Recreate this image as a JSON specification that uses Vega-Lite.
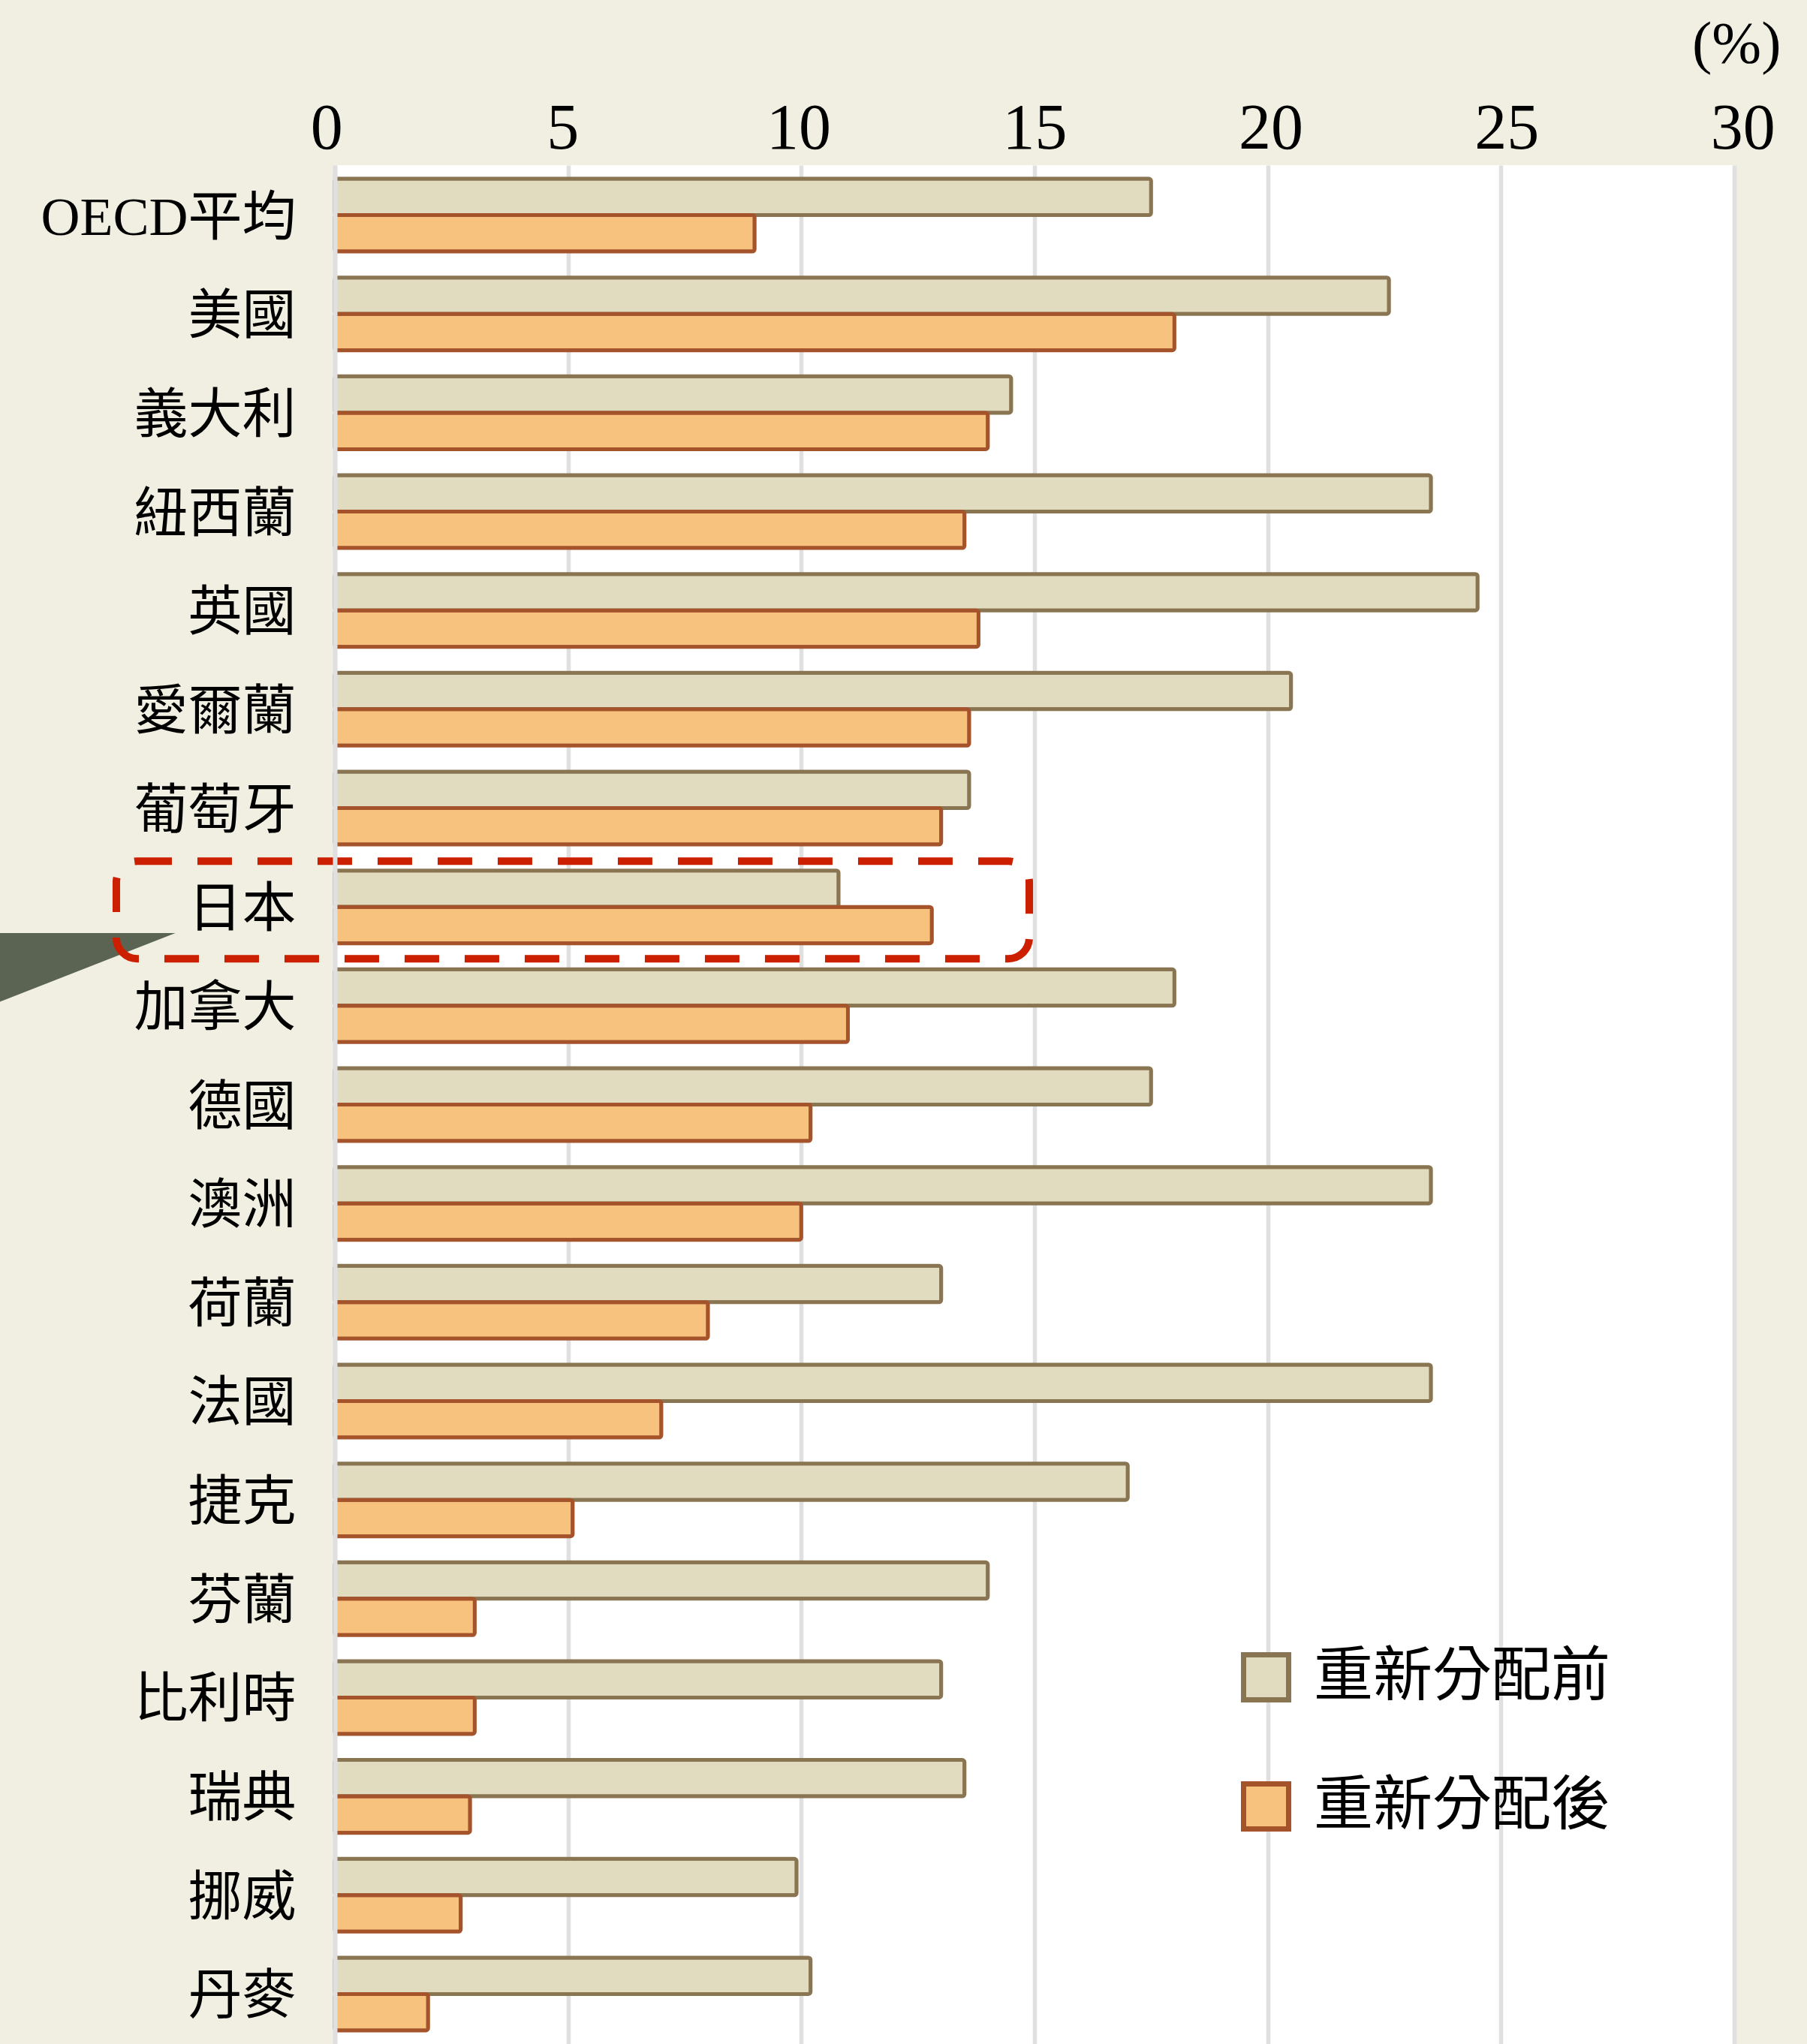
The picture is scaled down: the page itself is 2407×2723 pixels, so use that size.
{
  "$schema": "https://vega.github.io/schema/vega-lite/v6.json",
  "width": 1864,
  "height": 2503,
  "autosize": {"type": "none"},
  "padding": {"left": 446, "top": 220, "right": 97, "bottom": 0},
  "background": "#f1efe1",
  "config": {
    "view": {"stroke": null, "fill": "#ffffff"},
    "font": "Liberation Serif"
  },
  "datasets": {
    "bars": [
      {"country": "OECD平均", "type": "重新分配前", "value": 17.5},
      {"country": "美國", "type": "重新分配前", "value": 22.6},
      {"country": "義大利", "type": "重新分配前", "value": 14.5},
      {"country": "紐西蘭", "type": "重新分配前", "value": 23.5},
      {"country": "英國", "type": "重新分配前", "value": 24.5},
      {"country": "愛爾蘭", "type": "重新分配前", "value": 20.5},
      {"country": "葡萄牙", "type": "重新分配前", "value": 13.6},
      {"country": "日本", "type": "重新分配前", "value": 10.8},
      {"country": "加拿大", "type": "重新分配前", "value": 18.0},
      {"country": "德國", "type": "重新分配前", "value": 17.5},
      {"country": "澳洲", "type": "重新分配前", "value": 23.5},
      {"country": "荷蘭", "type": "重新分配前", "value": 13.0},
      {"country": "法國", "type": "重新分配前", "value": 23.5},
      {"country": "捷克", "type": "重新分配前", "value": 17.0},
      {"country": "芬蘭", "type": "重新分配前", "value": 14.0},
      {"country": "比利時", "type": "重新分配前", "value": 13.0},
      {"country": "瑞典", "type": "重新分配前", "value": 13.5},
      {"country": "挪威", "type": "重新分配前", "value": 9.9},
      {"country": "丹麥", "type": "重新分配前", "value": 10.2},
      {"country": "OECD平均", "type": "重新分配後", "value": 9.0},
      {"country": "美國", "type": "重新分配後", "value": 18.0},
      {"country": "義大利", "type": "重新分配後", "value": 14.0},
      {"country": "紐西蘭", "type": "重新分配後", "value": 13.5},
      {"country": "英國", "type": "重新分配後", "value": 13.8},
      {"country": "愛爾蘭", "type": "重新分配後", "value": 13.6},
      {"country": "葡萄牙", "type": "重新分配後", "value": 13.0},
      {"country": "日本", "type": "重新分配後", "value": 12.8},
      {"country": "加拿大", "type": "重新分配後", "value": 11.0},
      {"country": "德國", "type": "重新分配後", "value": 10.2},
      {"country": "澳洲", "type": "重新分配後", "value": 10.0},
      {"country": "荷蘭", "type": "重新分配後", "value": 8.0},
      {"country": "法國", "type": "重新分配後", "value": 7.0},
      {"country": "捷克", "type": "重新分配後", "value": 5.1},
      {"country": "芬蘭", "type": "重新分配後", "value": 3.0},
      {"country": "比利時", "type": "重新分配後", "value": 3.0},
      {"country": "瑞典", "type": "重新分配後", "value": 2.9},
      {"country": "挪威", "type": "重新分配後", "value": 2.7},
      {"country": "丹麥", "type": "重新分配後", "value": 2.0}
    ]
  },
  "layer": [
    {
      "data": {"name": "bars"},
      "mark": {"type": "bar", "strokeWidth": 5, "cornerRadius": 3},
      "encoding": {
        "y": {
          "field": "country",
          "type": "nominal",
          "scale": {
            "domain": ["OECD平均", "美國", "義大利", "紐西蘭", "英國", "愛爾蘭", "葡萄牙", "日本", "加拿大", "德國", "澳洲", "荷蘭", "法國", "捷克", "芬蘭", "比利時", "瑞典", "挪威", "丹麥"],
            "paddingInner": 0.263,
            "paddingOuter": 0.137
          },
          "axis": {
            "title": null,
            "orient": "left",
            "ticks": false,
            "domain": true,
            "domainColor": "#e0e0e0",
            "domainWidth": 6,
            "zindex": 1,
            "grid": false,
            "labelFont": "Liberation Serif, Noto Sans CJK TC",
            "labelFontSize": 72,
            "labelColor": "#000000",
            "labelPadding": 52,
            "labelOffset": 4,
            "labelLimit": 0
          }
        },
        "yOffset": {
          "field": "type",
          "type": "nominal",
          "sort": ["重新分配前", "重新分配後"],
          "scale": {"paddingInner": 0, "paddingOuter": 0}
        },
        "x": {
          "field": "value",
          "type": "quantitative",
          "scale": {"domain": [0, 30], "nice": false},
          "axis": {
            "orient": "top",
            "values": [0, 5, 10, 15, 20, 25, 30],
            "format": "d",
            "grid": true,
            "gridColor": "#e0e0e0",
            "gridWidth": 5.5,
            "ticks": false,
            "domain": false,
            "labelFont": "Liberation Serif",
            "labelFontSize": 86,
            "labelColor": "#000000",
            "labelPadding": 23,
            "labelOffset": {"expr": "(datum.value - 15) * 0.75"},
            "labelBaseline": "alphabetic",
            "labelFlush": false,
            "labelOverlap": false,
            "labelBound": false,
            "title": "(%)",
            "titleFont": "Liberation Serif",
            "titleFontSize": 79,
            "titleFontWeight": "normal",
            "titleColor": "#000000",
            "titleX": 1926,
            "titleY": -138,
            "titleAlign": "right",
            "titleBaseline": "alphabetic",
            "titleAngle": 0
          }
        },
        "fill": {
          "field": "type",
          "type": "nominal",
          "scale": {"domain": ["重新分配前", "重新分配後"], "range": ["#e1dcc0", "#f7c27e"]},
          "legend": {
            "title": null,
            "orient": "none",
            "legendX": 1201,
            "legendY": 1975,
            "padding": 0,
            "symbolType": "square",
            "symbolSize": 3600,
            "symbolStrokeWidth": 7,
            "labelFont": "Noto Sans CJK TC",
            "labelFontSize": 79,
            "labelColor": "#000000",
            "labelOffset": 24,
            "rowPadding": 83,
            "labelLimit": 0
          }
        },
        "stroke": {
          "field": "type",
          "type": "nominal",
          "scale": {"domain": ["重新分配前", "重新分配後"], "range": ["#8a7552", "#a4532b"]}
        }
      }
    },
    {
      "data": {"values": [{"country": "日本"}]},
      "mark": {
        "type": "point",
        "shape": "M-1.2,0.297L1,0.297L-1.2,1.16Z",
        "size": 54756,
        "filled": true,
        "fill": "#5b6452",
        "opacity": 1,
        "strokeWidth": 0
      },
      "encoding": {
        "x": {"datum": -5.3, "type": "quantitative"},
        "y": {"field": "country", "type": "nominal"}
      }
    },
    {
      "data": {"values": [{"country": "日本"}]},
      "mark": {
        "type": "bar",
        "height": {"band": 1.34},
        "yOffset": 4,
        "fill": "transparent",
        "stroke": "#cc1f00",
        "strokeWidth": 10,
        "strokeDash": [46, 34],
        "cornerRadius": 28
      },
      "encoding": {
        "x": {"datum": -4.684, "type": "quantitative"},
        "x2": {"datum": 14.888},
        "y": {"field": "country", "type": "nominal"}
      }
    }
  ]
}
